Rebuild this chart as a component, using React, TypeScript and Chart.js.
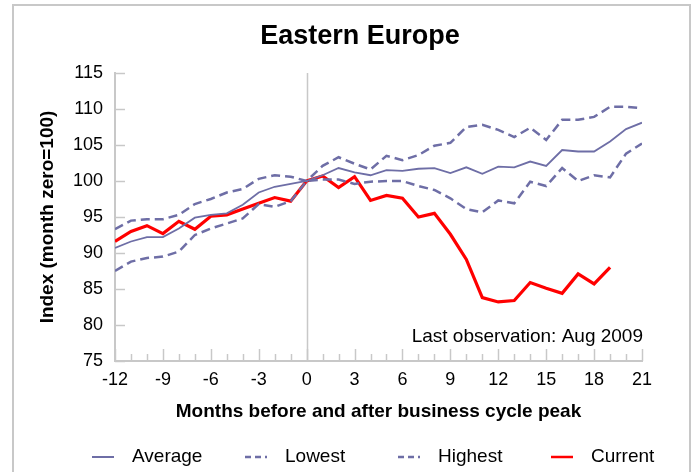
import React, { useEffect, useRef } from "react";
import { Chart, registerables } from "chart.js";

Chart.register(...registerables);

const months = [-12, -11, -10, -9, -8, -7, -6, -5, -4, -3, -2, -1, 0, 1, 2, 3, 4, 5, 6, 7, 8, 9, 10, 11, 12, 13, 14, 15, 16, 17, 18, 19, 20, 21];

const averageValues = [90.7, 91.6, 92.2, 92.2, 93.4, 94.9, 95.3, 95.5, 96.7, 98.4, 99.2, 99.6, 100, 100.8, 101.8, 101.2, 100.8, 101.5, 101.4, 101.7, 101.8, 101.1, 101.9, 101.0, 102.0, 101.9, 102.7, 102.1, 104.3, 104.1, 104.1, 105.5, 107.2, 108.1];

const lowestValues = [87.5, 88.8, 89.3, 89.5, 90.2, 92.5, 93.4, 94.1, 94.8, 96.8, 96.4, 97.2, 100, 100.2, 100.2, 99.6, 99.9, 100.0, 100.0, 99.3, 98.75, 97.6, 96.1, 95.65, 97.3, 96.9, 99.9, 99.3, 101.8, 100.0, 100.8, 100.5, 103.8, 105.2];

const highestValues = [93.3, 94.5, 94.7, 94.7, 95.3, 96.8, 97.5, 98.4, 98.9, 100.3, 100.8, 100.6, 100, 102.1, 103.3, 102.4, 101.6, 103.5, 102.9, 103.6, 104.9, 105.3, 107.5, 107.8, 107.1, 106.1, 107.4, 105.7, 108.5, 108.5, 108.9, 110.3, 110.3, 110.1];

const currentValues = [91.6, 93.0, 93.8, 92.7, 94.4, 93.3, 95.1, 95.3, 96.1, 96.9, 97.7, 97.2, 100.0, 100.7, 99.1, 100.6, 97.3, 98.0, 97.6, 95.0, 95.5, 92.6, 89.1, 83.8, 83.2, 83.4, 85.9, 85.1, 84.4, 87.1, 85.7, 88.0];

const seriesNames = ["Average", "Lowest", "Highest", "Current"];

const chartTitle = "Eastern Europe";
const xAxisTitle = "Months before and after business cycle peak";
const yAxisTitle = "Index (month zero=100)";
const noteText = "Last observation: Aug 2009";

const FONT = "'Liberation Sans', Arial, Helvetica, sans-serif";
const SLATE = "#6e6ea6";
const RED = "#ff0000";
const AXIS = "#c8c8c8";

const toPoints = (vals: number[]) => vals.map((v, i) => ({ x: months[i], y: v }));

const decor = {
  id: "decor",
  beforeDraw(chart: any) {
    const ctx = chart.ctx;
    ctx.save();
    ctx.fillStyle = "#ffffff";
    ctx.fillRect(0, 0, chart.width, chart.height);
    ctx.strokeStyle = AXIS;
    ctx.lineWidth = 2;
    ctx.strokeRect(13, 5, 677, 500);
    ctx.fillStyle = "#000";
    ctx.font = `bold 27px ${FONT}`;
    ctx.textAlign = "center";
    ctx.textBaseline = "alphabetic";
    ctx.fillText(chartTitle, 360, 44);
    ctx.restore();
  },
  beforeDatasetsDraw(chart: any) {
    const { ctx, chartArea, scales } = chart;
    const x = scales.x;
    const y = scales.y;
    ctx.save();
    ctx.strokeStyle = AXIS;
    ctx.lineWidth = 1.5;
    const x0 = Math.round(x.getPixelForValue(0)) + 0.5;
    ctx.beginPath();
    ctx.moveTo(x0, chartArea.top);
    ctx.lineTo(x0, chartArea.bottom);
    ctx.stroke();
    for (const m of months) {
      const px = Math.round(x.getPixelForValue(m)) + 0.5;
      const len = m % 3 === 0 ? 12 : 7;
      ctx.beginPath();
      ctx.moveTo(px, chartArea.bottom);
      ctx.lineTo(px, chartArea.bottom - len);
      ctx.stroke();
    }
    for (let v = 75; v <= 115; v += 5) {
      const py = Math.round(y.getPixelForValue(v)) + 0.5;
      ctx.beginPath();
      ctx.moveTo(chartArea.left, py);
      ctx.lineTo(chartArea.left + 10, py);
      ctx.stroke();
    }
    ctx.restore();
  },
  afterDraw(chart: any) {
    const { ctx } = chart;
    ctx.save();
    ctx.fillStyle = "#000";
    ctx.font = `19px ${FONT}`;
    ctx.textAlign = "right";
    ctx.textBaseline = "alphabetic";
    ctx.fillText(noteText, 643, 342);

    const styles = [
      { color: SLATE, dash: [] as number[], width: 2 },
      { color: SLATE, dash: [6, 4], width: 2.5 },
      { color: SLATE, dash: [6, 4], width: 2.5 },
      { color: RED, dash: [] as number[], width: 2.5 },
    ];
    const ly = 457;
    seriesNames.forEach((name, i) => {
      const lx = 92 + i * 153;
      const st = styles[i];
      ctx.strokeStyle = st.color;
      ctx.lineWidth = st.width;
      ctx.setLineDash(st.dash);
      ctx.beginPath();
      ctx.moveTo(lx, ly);
      ctx.lineTo(lx + 22, ly);
      ctx.stroke();
      ctx.setLineDash([]);
      ctx.fillStyle = "#000";
      ctx.textAlign = "left";
      ctx.textBaseline = "middle";
      ctx.fillText(name, lx + 40, ly);
    });
    ctx.restore();
  },
};

export default function App() {
  const ref = useRef<HTMLCanvasElement | null>(null);
  useEffect(() => {
    if (!ref.current) return;
    const chart = new Chart(ref.current, {
      type: "line",
      data: {
        datasets: [
          {
            label: seriesNames[0],
            data: toPoints(averageValues),
            borderColor: SLATE,
            borderWidth: 1.8,
            pointRadius: 0,
            tension: 0,
          },
          {
            label: seriesNames[1],
            data: toPoints(lowestValues),
            borderColor: SLATE,
            borderWidth: 2.5,
            borderDash: [9, 5],
            pointRadius: 0,
            tension: 0,
          },
          {
            label: seriesNames[2],
            data: toPoints(highestValues),
            borderColor: SLATE,
            borderWidth: 2.5,
            borderDash: [9, 5],
            pointRadius: 0,
            tension: 0,
          },
          {
            label: seriesNames[3],
            data: toPoints(currentValues),
            borderColor: RED,
            borderWidth: 3.2,
            pointRadius: 0,
            tension: 0,
          },
        ],
      },
      options: {
        responsive: false,
        animation: false,
        layout: { padding: { left: 30, right: 52, top: 73, bottom: 39 } },
        plugins: {
          legend: { display: false },
          title: { display: false },
          tooltip: { enabled: false },
        },
        scales: {
          x: {
            type: "linear",
            min: -12,
            max: 21,
            grid: { display: false, drawTicks: false },
            border: { display: true, color: AXIS, width: 2 },
            ticks: {
              stepSize: 3,
              color: "#000",
              font: { family: FONT, size: 18 },
              padding: 8,
              maxRotation: 0,
            },
            title: {
              display: true,
              text: xAxisTitle,
              color: "#000",
              font: { family: FONT, size: 19, weight: "bold" },
              padding: { top: 0, bottom: 10 },
            },
            afterFit: (s: any) => {
              s.height = 72;
            },
          },
          y: {
            min: 75,
            max: 115,
            grid: { display: false, drawTicks: false },
            border: { display: true, color: AXIS, width: 2 },
            ticks: {
              stepSize: 5,
              color: "#000",
              font: { family: FONT, size: 18 },
              padding: 12,
            },
            title: {
              display: true,
              text: yAxisTitle,
              color: "#000",
              font: { family: FONT, size: 19, weight: "bold" },
              padding: { top: 6, bottom: 0 },
            },
            afterFit: (s: any) => {
              s.width = 85;
            },
          },
        },
      },
      plugins: [decor],
    });
    return () => chart.destroy();
  }, []);
  return (
    <div style={{ position: "absolute", left: 0, top: 0, width: 694, height: 472 }}>
      <canvas ref={ref} width={694} height={472} style={{ width: 694, height: 472, display: "block" }} />
    </div>
  );
}
